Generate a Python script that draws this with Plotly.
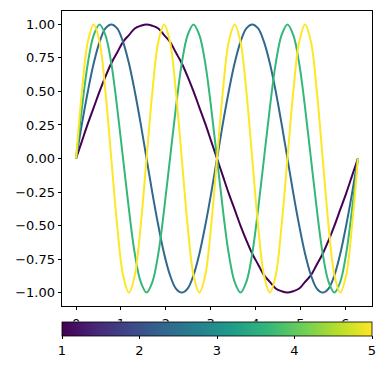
import plotly.graph_objects as go

# x grid (radians)
x_vals = [0, 0.131, 0.262, 0.393, 0.524, 0.654, 0.785, 0.916, 1.047, 1.178, 1.309, 1.440,
          1.571, 1.702, 1.833, 1.963, 2.094, 2.225, 2.356, 2.487, 2.618, 2.749, 2.880, 3.011,
          3.142, 3.272, 3.403, 3.534, 3.665, 3.796, 3.927, 4.058, 4.189, 4.320, 4.451, 4.581,
          4.712, 4.843, 4.974, 5.105, 5.236, 5.367, 5.498, 5.629, 5.760, 5.890, 6.021, 6.152,
          6.283]

wave_1 = [0, .13, .26, .38, .5, .61, .71, .79, .87, .92, .97, .99, 1,
          .99, .97, .92, .87, .79, .71, .61, .5, .38, .26, .13, 0,
          -.13, -.26, -.38, -.5, -.61, -.71, -.79, -.87, -.92, -.97, -.99, -1,
          -.99, -.97, -.92, -.87, -.79, -.71, -.61, -.5, -.38, -.26, -.13, 0]

wave_2 = [0, .26, .5, .71, .87, .97, 1, .97, .87, .71, .5, .26,
          0, -.26, -.5, -.71, -.87, -.97, -1, -.97, -.87, -.71, -.5, -.26,
          0, .26, .5, .71, .87, .97, 1, .97, .87, .71, .5, .26,
          0, -.26, -.5, -.71, -.87, -.97, -1, -.97, -.87, -.71, -.5, -.26, 0]

wave_3 = [0, .38, .71, .92, 1, .92, .71, .38, 0, -.38, -.71, -.92, -1, -.92, -.71, -.38,
          0, .38, .71, .92, 1, .92, .71, .38, 0, -.38, -.71, -.92, -1, -.92, -.71, -.38,
          0, .38, .71, .92, 1, .92, .71, .38, 0, -.38, -.71, -.92, -1, -.92, -.71, -.38, 0]

wave_4 = [0, .5, .87, 1, .87, .5, 0, -.5, -.87, -1, -.87, -.5,
          0, .5, .87, 1, .87, .5, 0, -.5, -.87, -1, -.87, -.5,
          0, .5, .87, 1, .87, .5, 0, -.5, -.87, -1, -.87, -.5,
          0, .5, .87, 1, .87, .5, 0, -.5, -.87, -1, -.87, -.5, 0]

series = [wave_1, wave_2, wave_3, wave_4]
colors = ["#440154", "#31688e", "#35b779", "#fde725"]

x_ticks = [0, 1, 2, 3, 4, 5, 6]
y_ticks = [-1.0, -0.75, -0.5, -0.25, 0.0, 0.25, 0.5, 0.75, 1.0]
cbar_ticks = [1, 2, 3, 4, 5]

fig = go.Figure()
for ys, c in zip(series, colors):
    fig.add_trace(go.Scatter(x=x_vals, y=ys, mode="lines", line=dict(color=c, width=2, shape="spline"),
                             showlegend=False, hoverinfo="skip"))

# dummy trace for the colorbar
fig.add_trace(go.Scatter(
    x=[x_vals[0], x_vals[0]], y=[wave_1[0], wave_1[0]], mode="markers",
    marker=dict(size=0.1, opacity=0, color=[cbar_ticks[0], cbar_ticks[-1]], colorscale="Viridis",
                cmin=cbar_ticks[0], cmax=cbar_ticks[-1], showscale=True,
                colorbar=dict(orientation="h", x=0, xanchor="left", y=-0.0529, yanchor="top",
                              len=1, lenmode="fraction", thickness=14.4, thicknessmode="pixels",
                              xpad=0, ypad=0, outlinewidth=0.8, outlinecolor="black",
                              tickvals=cbar_ticks, ticks="outside", ticklen=3.5, tickwidth=0.8,
                              tickcolor="black", tickfont=dict(size=13, color="black"))),
    showlegend=False, hoverinfo="skip"))

axis_common = dict(showgrid=False, zeroline=False, showline=True, mirror=True, linecolor="black",
                   linewidth=0.8, ticks="outside", ticklen=3.5, tickwidth=0.8, tickcolor="black",
                   tickfont=dict(size=13, color="black"))

fig.update_layout(
    width=386, height=370,
    margin=dict(l=62, r=14, t=11, b=64),
    paper_bgcolor="white", plot_bgcolor="white",
    font=dict(family="DejaVu Sans", size=13, color="black"),
    xaxis=dict(range=[-0.314, 6.597], tickvals=x_ticks, ticklabelstandoff=2, **axis_common),
    yaxis=dict(range=[-1.1, 1.1], tickvals=y_ticks, tickformat=".2f", **axis_common),
    shapes=[dict(type="rect", xref="paper", yref="paper", x0=-0.05, x1=1.05, y0=-0.25, y1=-0.0529,
                 fillcolor="white", line=dict(width=0), layer="above")],
)

fig.write_html("out.html")
